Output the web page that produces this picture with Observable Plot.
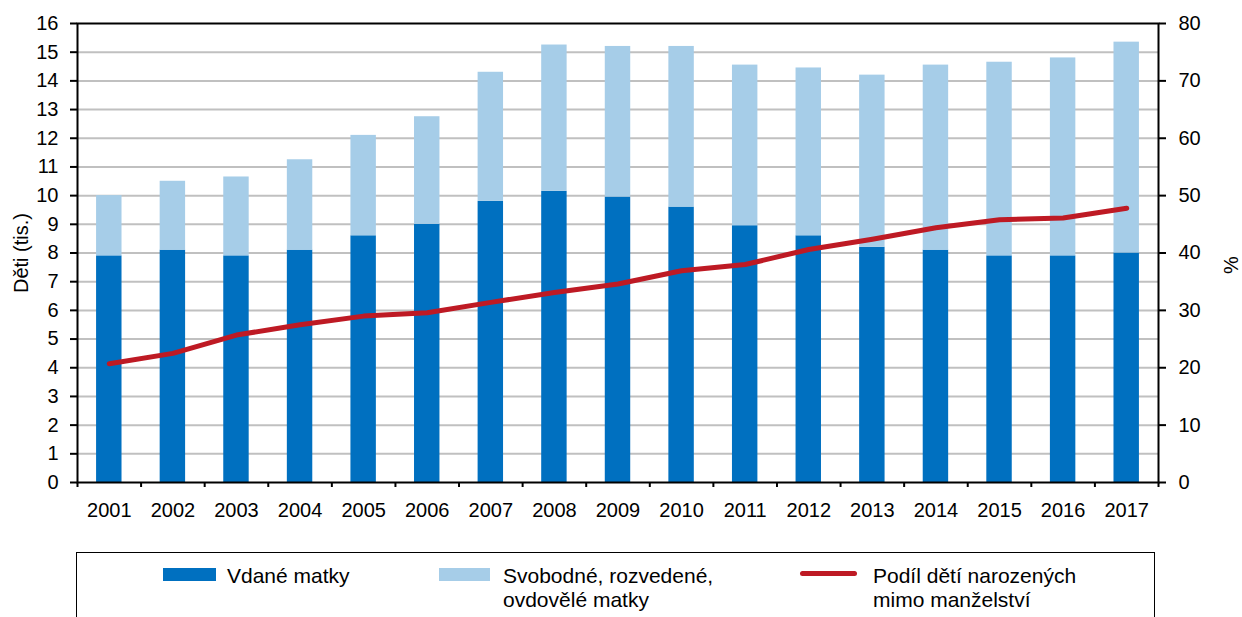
<!DOCTYPE html>
<html>
<head>
<meta charset="utf-8">
<script src="https://cdn.jsdelivr.net/npm/d3@7"></script>
<script src="https://cdn.jsdelivr.net/npm/@observablehq/plot@0.6"></script>
<style>
  html, body { margin: 0; padding: 0; background: #fff; overflow: hidden; }
  #wrap { position: relative; width: 1242px; height: 617px; font-family: "Liberation Sans", Arial, sans-serif; }
  #chart svg { display: block; }
  .lg-box { position: absolute; left: 76px; top: 552px; width: 1079px; height: 90px; border: 1.5px solid #000; box-sizing: border-box; }
  .sw { position: absolute; }
  .lt { position: absolute; font-size: 21px; line-height: 24px; color: #000; white-space: nowrap; }
</style>
</head>
<body>
<div id="wrap">
  <div id="chart"></div>
  <div class="lg-box"></div>
  <div id="legend"></div>
</div>
<script>
// ---- data ----
const years = [2001, 2002, 2003, 2004, 2005, 2006, 2007, 2008, 2009, 2010, 2011, 2012, 2013, 2014, 2015, 2016, 2017];
const married = [7.9, 8.1, 7.9, 8.1, 8.6, 9.0, 9.8, 10.15, 9.95, 9.6, 8.95, 8.6, 8.2, 8.1, 7.9, 7.9, 8.0];
const unmarried = [2.1, 2.4, 2.75, 3.15, 3.5, 3.75, 4.5, 5.1, 5.25, 5.6, 5.6, 5.85, 6.0, 6.45, 6.75, 6.9, 7.35];
const share = [20.7, 22.5, 25.7, 27.5, 29.0, 29.6, 31.4, 33.1, 34.6, 36.9, 38.0, 40.6, 42.4, 44.4, 45.8, 46.1, 47.8];
const seriesNames = ["Vdané matky", "Svobodné, rozvedené, ovdovělé matky", "Podíl dětí narozených mimo manželství"];
const leftTicks = d3.range(0, 17);
const rightTickLabels = [0, 10, 20, 30, 40, 50, 60, 70, 80];
const yTitle = "Děti (tis.)";
const y2Title = "%";

const colMarried = "#0070c0";
const colUnmarried = "#a6cde8";
const colShare = "#be1a24";

// build tables
const rows = [];
years.forEach((y, i) => {
  rows.push({year: y, y1: 0, y2: married[i], s: seriesNames[0]});
  rows.push({year: y, y1: married[i], y2: married[i] + unmarried[i], s: seriesNames[1]});
});
const lineData = years.map((y, i) => ({year: y, v: share[i] / 5}));
const boundaries = [...years.map(y => y - 0.5), years[years.length - 1] + 0.5];

const chart = Plot.plot({
  width: 1242,
  height: 540,
  marginLeft: 77,
  marginRight: 84,
  marginTop: 23,
  marginBottom: 58,
  style: {fontFamily: "'Liberation Sans', Arial, sans-serif", fontSize: "20px", color: "#000", background: "#fff"},
  x: {type: "linear", domain: [2000.5, 2017.5]},
  y: {domain: [0, 16]},
  color: {domain: seriesNames.slice(0, 2), range: [colMarried, colUnmarried]},
  marks: [
    Plot.gridY({ticks: d3.range(1, 16), stroke: "#c0c0c0", strokeOpacity: 1, strokeWidth: 2}),
    Plot.rectY(rows, {x1: d => d.year - 0.2, x2: d => d.year + 0.2, y1: "y1", y2: "y2", fill: "s"}),
    Plot.line(lineData, {x: "year", y: "v", stroke: colShare, strokeWidth: 5, strokeLinecap: "round", strokeLinejoin: "round"}),
    Plot.frame({stroke: "#000", strokeWidth: 2}),
    Plot.axisY({ticks: leftTicks, tickSize: 7, tickPadding: 12, fontSize: 20, label: null, strokeWidth: 2}),
    Plot.axisY({anchor: "right", ticks: rightTickLabels.map(v => v / 5), tickFormat: d => String(d * 5), tickSize: 7, tickPadding: 13, fontSize: 20, label: null, strokeWidth: 2}),
    Plot.axisX({ticks: years, tickFormat: d => String(d), tickSize: 0, tickPadding: 20, fontSize: 20, label: null}),
    Plot.axisX({ticks: boundaries, tickFormat: () => "", tickSize: 5, label: null, strokeWidth: 2}),
    Plot.text([yTitle], {frameAnchor: "left", dx: -56, rotate: -90, fontSize: 20, textAnchor: "middle"}),
    Plot.text([y2Title], {frameAnchor: "right", dx: 73, dy: 12, rotate: -90, fontSize: 20, textAnchor: "middle"})
  ]
});
document.getElementById("chart").appendChild(chart);

// legend (HTML)
const legend = document.getElementById("legend");
function add(cls, style, text) {
  const d = document.createElement("div");
  d.className = cls;
  Object.assign(d.style, style);
  if (text) d.innerHTML = text;
  legend.appendChild(d);
}
add("sw", {left: "163px", top: "568px", width: "53px", height: "13px", background: colMarried});
add("lt", {left: "227px", top: "564px"}, seriesNames[0]);
add("sw", {left: "439px", top: "568px", width: "51px", height: "13px", background: colUnmarried});
add("lt", {left: "503px", top: "564px"}, "Svobodné, rozvedené,<br>ovdovělé matky");
add("sw", {left: "800px", top: "571px", width: "57px", height: "5px", background: colShare, borderRadius: "3px"});
add("lt", {left: "873px", top: "564px"}, "Podíl dětí narozených<br>mimo manželství");
</script>
</body>
</html>
